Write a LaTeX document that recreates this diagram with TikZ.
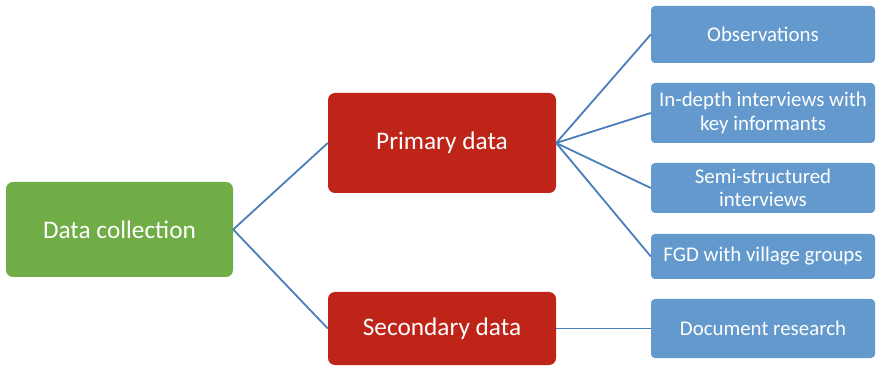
\documentclass[tikz,border=0pt]{standalone}
\usepackage{fontspec}
\setmainfont{Carlito}
\definecolor{gfill}{HTML}{70AD47}
\definecolor{rfill}{HTML}{BF2418}
\definecolor{bfill}{HTML}{6399CC}
\definecolor{lcol}{HTML}{4A7EBB}
\begin{document}
\begin{tikzpicture}[x=1pt,y=-1pt,
  box/.style={rectangle, inner sep=0pt, text=white, align=center, anchor=center},
  gbox/.style={box, fill=gfill, rounded corners=7pt, minimum width=227pt, font=\fontsize{25.3}{29}\selectfont},
  rbox/.style={box, fill=rfill, rounded corners=7pt, minimum width=228pt, font=\fontsize{25.3}{29}\selectfont},
  bbox/.style={box, fill=bfill, rounded corners=4pt, minimum width=224pt, font=\fontsize{20.9}{23.5}\selectfont},
  conn/.style={draw=lcol, line width=1.8pt}]
\useasboundingbox (0,0) rectangle (876,366);
\node[gbox, minimum height=95pt] (dc) at (119.5,229.5) {Data collection};
\node[rbox, minimum height=100pt] (pd) at (442,143) {Primary data};
\node[rbox, minimum height=73pt] (sd) at (442,328.5) {Secondary data};
\node[bbox, minimum height=57pt] (ob) at (763,34.5) {Observations};
\node[bbox, minimum height=60pt] (ii) at (763,113) {In-depth interviews with\\key informants};
\node[bbox, minimum height=50pt] (ss) at (763,188) {Semi-structured\\interviews};
\node[bbox, minimum height=45pt] (fg) at (763,256.5) {FGD with village groups};
\node[bbox, minimum height=59pt] (dr) at (763,328.5) {Document research};
\draw[conn] (dc.east) -- (pd.west);
\draw[conn] (dc.east) -- (sd.west);
\draw[conn] (pd.east) -- (ob.west);
\draw[conn] (pd.east) -- (ii.west);
\draw[conn] (pd.east) -- (ss.west);
\draw[conn] (pd.east) -- (fg.west);
\draw[conn] (sd.east) -- (dr.west);
\end{tikzpicture}
\end{document}
